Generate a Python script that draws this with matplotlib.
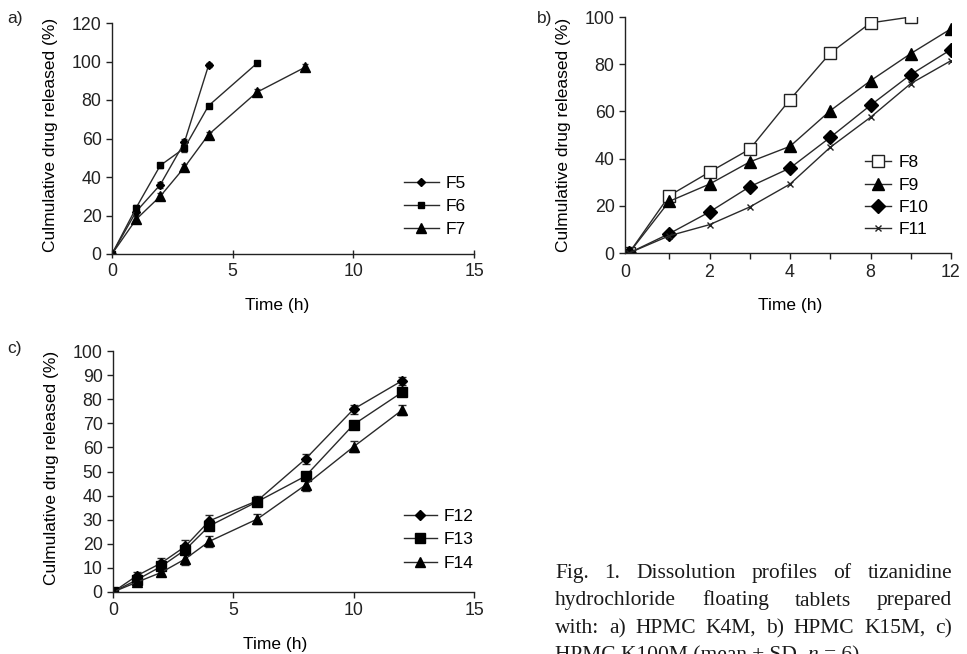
import matplotlib
matplotlib.use("Agg")
import matplotlib.pyplot as plt
from matplotlib.lines import Line2D

plt.rcParams['font.family'] = ['Liberation Sans', 'DejaVu Sans']

# ---------------- data ----------------
# panel a (HPMC K4M)
time_f5 = [0, 1, 2, 3, 4]
f5 = [0, 22, 36, 58, 98]
sd_f5 = [0, 1.5, 1.5, 2, 1]
time_f6 = [0, 1, 2, 3, 4, 6]
f6 = [0, 24, 46, 55, 77, 99]
sd_f6 = [0, 1.5, 1.5, 2, 1, 1]
time_f7 = [0, 1, 2, 3, 4, 6, 8]
f7 = [0, 18, 30, 45, 62, 84, 97]
sd_f7 = [0, 1.5, 1.5, 1.5, 1.5, 1.5, 1.5]

# panel b (HPMC K15M) - category axis
cats_b = ['0', '1', '2', '3', '4', '6', '8', '10', '12']
shown_b = ['0', '2', '4', '8', '12']
f8 = [0, 24.3, 34.3, 44, 65, 84.7, 97.5, 100]
f9 = [0, 21.9, 29.2, 38.6, 45.2, 60.3, 73, 84.5, 95]
f10 = [0, 8.2, 17.4, 28.1, 36, 49, 62.6, 75.6, 86.2]
f11 = [0, 7.3, 12, 19.5, 29.2, 44.8, 57.5, 71.8, 81.5]

# panel c (HPMC K100M)
time_c = [0, 1, 2, 3, 4, 6, 8, 10, 12]
f12 = [0, 6.8, 12, 18.9, 29.5, 37.9, 55.2, 75.9, 87.6]
sd_f12 = [0, 1.7, 2.2, 2.7, 2.6, 1.8, 2, 1.9, 1.7]
f13 = [0, 5.1, 10.6, 17.5, 27.4, 37.5, 48.1, 69.5, 82.8]
sd_f13 = [0, 1, 1.2, 1.5, 1.5, 1, 1.5, 1.2, 1]
f14 = [0, 4.1, 8.1, 13.7, 21, 30.3, 44.4, 60.3, 75.4]
sd_f14 = [0, 1, 1.2, 2.7, 2.4, 2, 2.4, 2.4, 2]

ylabel = 'Culmulative drug released (%)'
xlabel = 'Time (h)'
caption_lines = [
    "Fig. 1. Dissolution profiles of tizanidine",
    "hydrochloride floating tablets prepared",
    "with: a) HPMC K4M, b) HPMC K15M, c)",
]

# ---------------- figure ----------------
W, H = 967, 654
fig = plt.figure(figsize=(W / 100, H / 100), dpi=100)


def axes_px(x0, y0, x1, y1):
    # pixel box (top-left origin) -> figure axes
    return fig.add_axes([x0 / W, 1 - y1 / H, (x1 - x0) / W, (y1 - y0) / H])


LC = '#2a2a2a'
FS = 12.5
TFS = 12.8


def style(ax):
    for s in ['top', 'right']:
        ax.spines[s].set_visible(False)
    for s in ['left', 'bottom']:
        ax.spines[s].set_linewidth(1.0)
        ax.spines[s].set_color('#222222')
    ax.tick_params(labelsize=TFS, length=4, width=1, colors='#222222')


# ---- panel a ----
axa = axes_px(112, 23, 474, 254)
style(axa)
ekw = dict(color=LC, lw=1.0, capsize=2.5, elinewidth=1, capthick=1)
axa.errorbar(time_f5, f5, yerr=sd_f5, marker='D', ms=4.5, mfc='k', mec='k', **ekw)
axa.errorbar(time_f6, f6, yerr=sd_f6, marker='s', ms=4, mfc='k', mec='k', **ekw)
axa.errorbar(time_f7, f7, yerr=sd_f7, marker='^', ms=6.5, mfc='k', mec='k', **ekw)
axa.set_xlim(0, 15)
axa.set_ylim(0, 120)
axa.set_xticks([0, 5, 10, 15])
axa.set_yticks(range(0, 121, 20))
axa.tick_params(axis='x', direction='inout', length=6)
axa.set_ylabel(ylabel, fontsize=FS)
axa.set_xlabel(xlabel, fontsize=FS)
axa.yaxis.set_label_coords(-0.149, 0.515)
axa.xaxis.set_label_coords(0.456, -0.19)
ha = [Line2D([], [], color=LC, lw=1, marker='D', ms=4.5, mfc='k', mec='k'),
      Line2D([], [], color=LC, lw=1, marker='s', ms=4, mfc='k', mec='k'),
      Line2D([], [], color=LC, lw=1, marker='^', ms=6.5, mfc='k', mec='k')]
fig.legend(ha, ['F5', 'F6', 'F7'], loc='upper left',
           bbox_to_anchor=(404 / W, 1 - 176 / H), frameon=False,
           fontsize=FS, handlelength=2.0, handletextpad=0.4,
           labelspacing=0.44, borderpad=0, borderaxespad=0)

# ---- panel b ----
axb = axes_px(625, 17, 951, 253)
style(axb)
xb = list(range(len(cats_b)))
axb.plot(xb[:len(f8)], f8, color=LC, lw=1, marker='s', ms=8, mfc='white', mec='#222222', mew=1, label='F8')
axb.plot(xb, f9, color=LC, lw=1, marker='^', ms=9, mfc='k', mec='k', label='F9')
axb.plot(xb, f10, color=LC, lw=1, marker='D', ms=7, mfc='k', mec='k', label='F10')
axb.plot(xb, f11, color=LC, lw=1, marker='x', ms=5, mec='#222222', mew=1, label='F11')
axb.set_xlim(-0.1, 8)
axb.set_ylim(0, 100)
axb.set_xticks(xb[1:])
axb.set_xticklabels([])
for lab in shown_b:
    i = cats_b.index(lab)
    xpos = -0.1 if i == 0 else i
    axb.text(xpos, -0.045, lab, transform=axb.get_xaxis_transform(),
             ha='center', va='top', fontsize=TFS, color='#222222')
axb.set_yticks(range(0, 101, 20))
axb.set_ylabel(ylabel, fontsize=FS)
axb.set_xlabel(xlabel, fontsize=FS)
axb.yaxis.set_label_coords(-0.165, 0.5)
axb.xaxis.set_label_coords(0.506, -0.19)
axb.legend(loc='upper left', bbox_to_anchor=(865 / W, 1 - 155 / H),
           bbox_transform=fig.transFigure, frameon=False, fontsize=FS,
           handlelength=1.5, handletextpad=0.45, labelspacing=0.42,
           borderpad=0, borderaxespad=0)

# ---- panel c ----
axc = axes_px(113, 351, 474, 592)
style(axc)
ekc = dict(color=LC, lw=1.0, capsize=3, elinewidth=1, capthick=1)
axc.errorbar(time_c, f12, yerr=sd_f12, marker='D', ms=5, mfc='k', mec='k', **ekc)
axc.errorbar(time_c, f13, yerr=sd_f13, marker='s', ms=7, mfc='k', mec='k', **ekc)
axc.errorbar(time_c, f14, yerr=sd_f14, marker='^', ms=7, mfc='k', mec='k', **ekc)
axc.set_xlim(0, 15)
axc.set_ylim(0, 100)
axc.set_xticks([0, 5, 10, 15])
axc.set_yticks(range(0, 101, 10))
axc.set_ylabel(ylabel, fontsize=FS)
axc.set_xlabel(xlabel, fontsize=FS)
axc.yaxis.set_label_coords(-0.149, 0.515)
axc.xaxis.set_label_coords(0.449, -0.187)
hc = [Line2D([], [], color=LC, lw=1, marker='D', ms=5, mfc='k', mec='k'),
      Line2D([], [], color=LC, lw=1, marker='s', ms=7, mfc='k', mec='k'),
      Line2D([], [], color=LC, lw=1, marker='^', ms=7, mfc='k', mec='k')]
fig.legend(hc, ['F12', 'F13', 'F14'], loc='upper left',
           bbox_to_anchor=(404 / W, 1 - 509 / H), frameon=False,
           fontsize=FS, handlelength=1.9, handletextpad=0.4,
           labelspacing=0.47, borderpad=0, borderaxespad=0)

# panel letters
for lab, (px, py) in {'a)': (7, 19), 'b)': (537, 19), 'c)': (7, 348)}.items():
    fig.text(px / W, 1 - py / H, lab, fontsize=FS, ha='left', va='center', color='#222222')

# ---------------- caption (justified) ----------------
cap_font = ['Liberation Serif', 'DejaVu Serif']
cap_fs = 15.5
left_px, right_px = 555, 952
baselines = [578, 605.5, 633]
renderer = fig.canvas.get_renderer()


def word_width(w, fs, style='normal'):
    t = fig.text(0, 0, w, fontsize=fs, family=cap_font, style=style)
    bb = t.get_window_extent(renderer=renderer)
    t.remove()
    return bb.width


# shrink font if any line too wide
while True:
    sp = word_width('a a', cap_fs) - 2 * word_width('a', cap_fs)
    ok = all(sum(word_width(w, cap_fs) for w in ln.split()) + sp * (len(ln.split()) - 1) <= right_px - left_px
             for ln in caption_lines)
    if ok:
        break
    cap_fs -= 0.25

for ln, base in zip(caption_lines, baselines):
    words = ln.split()
    widths = [word_width(w, cap_fs) for w in words]
    gap = (right_px - left_px - sum(widths)) / (len(words) - 1)
    x = left_px
    for w, wd in zip(words, widths):
        fig.text(x / W, 1 - base / H, w, fontsize=cap_fs, family=cap_font,
                 ha='left', va='baseline', color='#1a1a1a')
        x += wd + gap

# last line (cut off at the bottom edge, as in the source page)
x = left_px
base = 660
sp = word_width('a a', cap_fs) - 2 * word_width('a', cap_fs)
for piece, st in [("HPMC K100M (mean ± SD,", 'normal'), ("n", 'italic'), ("= 6).", 'normal')]:
    fig.text(x / W, 1 - base / H, piece, fontsize=cap_fs, family=cap_font, style=st,
             ha='left', va='baseline', color='#1a1a1a')
    x += word_width(piece, cap_fs, st) + sp

fig.savefig('out.png', dpi=100)
